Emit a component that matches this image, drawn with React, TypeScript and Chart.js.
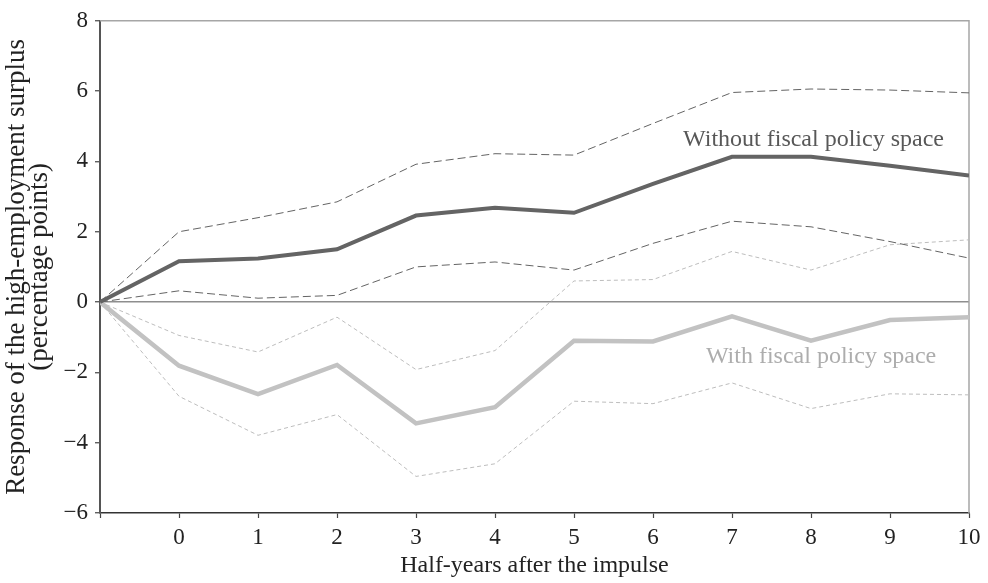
import React, { useEffect, useRef } from "react";
import { Chart, registerables } from "chart.js";

Chart.register(...registerables);

// Half-years after the impulse (-1 is the pre-impulse origin, left unlabeled)
const halfYears = [-1, 0, 1, 2, 3, 4, 5, 6, 7, 8, 9, 10];

// Without fiscal policy space: point estimate and confidence bands
const withoutMid = [0, 1.16, 1.24, 1.5, 2.46, 2.68, 2.54, 3.36, 4.13, 4.13, 3.88, 3.6];
const withoutUpper = [0, 2.0, 2.4, 2.85, 3.92, 4.22, 4.18, 5.08, 5.96, 6.06, 6.03, 5.95];
const withoutLower = [0, 0.32, 0.11, 0.19, 1.0, 1.14, 0.91, 1.67, 2.3, 2.14, 1.72, 1.25];

// With fiscal policy space: point estimate and confidence bands
const withMid = [0, -1.81, -2.62, -1.79, -3.45, -2.99, -1.1, -1.12, -0.41, -1.1, -0.51, -0.43];
const withUpper = [0, -0.95, -1.42, -0.43, -1.92, -1.38, 0.6, 0.64, 1.44, 0.91, 1.63, 1.77];
const withLower = [0, -2.68, -3.79, -3.2, -4.96, -4.6, -2.82, -2.89, -2.3, -3.03, -2.61, -2.64];

const yTicks = [-6, -4, -2, 0, 2, 4, 6, 8];

const seriesLabels = ["Without fiscal policy space", "With fiscal policy space"];

const FONT = "'Liberation Serif', 'Times New Roman', serif";
const DARK = "#646464";
const LIGHT = "#c2c2c2";

const toPoints = (ys: number[]) => halfYears.map((x, i) => ({ x, y: ys[i] }));

// Light frame on the top and right edges of the plot area
const framePlugin = {
  id: "frame",
  beforeDatasetsDraw(chart: any) {
    const { ctx, chartArea } = chart;
    ctx.save();
    ctx.strokeStyle = "#a6a6a6";
    ctx.lineWidth = 1.5;
    ctx.beginPath();
    ctx.moveTo(chartArea.left, chartArea.top);
    ctx.lineTo(chartArea.right, chartArea.top);
    ctx.lineTo(chartArea.right, chartArea.bottom);
    ctx.stroke();
    ctx.restore();
  },
};

// Series names written next to their lines
const seriesNamePlugin = {
  id: "seriesNames",
  afterDatasetsDraw(chart: any) {
    const { ctx, scales } = chart;
    const xs = scales.x;
    const ys = scales.y;
    ctx.save();
    ctx.font = `24px ${FONT}`;
    ctx.textAlign = "left";
    ctx.textBaseline = "alphabetic";
    ctx.fillStyle = "#585858";
    ctx.fillText(seriesLabels[0], xs.getPixelForValue(6.38), ys.getPixelForValue(4.43));
    ctx.fillStyle = "#adadad";
    ctx.fillText(seriesLabels[1], xs.getPixelForValue(6.67), ys.getPixelForValue(-1.73));
    ctx.restore();
  },
};

export default function App() {
  const canvasRef = useRef<HTMLCanvasElement | null>(null);

  useEffect(() => {
    const canvas = canvasRef.current;
    if (!canvas) return;

    const line = (data: number[], color: string, width: number, dash: number[], order: number) => ({
      data: toPoints(data),
      borderColor: color,
      borderWidth: width,
      borderDash: dash,
      pointRadius: 0,
      fill: false,
      tension: 0,
      order,
    });

    const chart = new Chart(canvas, {
      type: "line",
      data: {
        datasets: [
          line(withUpper, "#bdbdbd", 1, [4, 3], 5),
          line(withLower, "#bdbdbd", 1, [4, 3], 5),
          line(withoutUpper, DARK, 1, [8, 4], 4),
          line(withoutLower, DARK, 1, [8, 4], 4),
          line(withMid, LIGHT, 4.5, [], 2),
          line(withoutMid, DARK, 4, [], 1),
        ],
      },
      options: {
        responsive: false,
        animation: false,
        events: [],
        layout: { padding: { top: 15, right: 19, left: 0, bottom: 0 } },
        plugins: {
          legend: { display: false },
          tooltip: { enabled: false },
        },
        scales: {
          x: {
            type: "linear",
            min: -1,
            max: 10,
            afterFit(scale: any) {
              scale.height = 70;
            },
            ticks: {
              stepSize: 1,
              autoSkip: false,
              maxRotation: 0,
              padding: 6,
              color: "#222",
              font: { family: FONT, size: 23 },
              callback: (v: any) => (v === -1 ? "" : String(v)),
            },
            grid: {
              drawOnChartArea: false,
              drawTicks: true,
              tickLength: 5,
              tickColor: "#444",
              tickWidth: 1.2,
            },
            border: { color: "#333", width: 1.5 },
            title: {
              display: true,
              text: "Half-years after the impulse",
              color: "#222",
              font: { family: FONT, size: 24, lineHeight: 1 },
              padding: { top: 0, bottom: 5 },
            },
          },
          y: {
            type: "linear",
            min: -6,
            max: 8,
            afterFit(scale: any) {
              scale.width = 100;
            },
            afterBuildTicks(scale: any) {
              scale.ticks = yTicks.map((value) => ({ value }));
            },
            ticks: {
              padding: 7,
              color: "#222",
              font: { family: FONT, size: 23 },
              callback: (v: any) => (Number(v) < 0 ? "\u2212" + Math.abs(Number(v)) : String(v)),
            },
            grid: {
              drawOnChartArea: true,
              drawTicks: true,
              tickLength: 5,
              tickColor: "#444",
              tickWidth: 1.2,
              color: (c: any) => (c.tick && c.tick.value === 0 ? "#8e8e8e" : "rgba(0,0,0,0)"),
              lineWidth: 1.5,
            },
            border: { color: "#555", width: 2 },
            title: {
              display: true,
              text: ["Response of the high-employment surplus", "(percentage points)"],
              color: "#222",
              font: { family: FONT, size: 27, lineHeight: 0.86 },
              padding: { top: 5, bottom: 0 },
            },
          },
        },
      },
      plugins: [framePlugin, seriesNamePlugin],
    } as any);

    return () => chart.destroy();
  }, []);

  return (
    <div style={{ position: "absolute", left: 0, top: 0, width: 988, height: 583, background: "#fff" }}>
      <canvas ref={canvasRef} width={988} height={583} style={{ display: "block", width: 988, height: 583 }} />
    </div>
  );
}
